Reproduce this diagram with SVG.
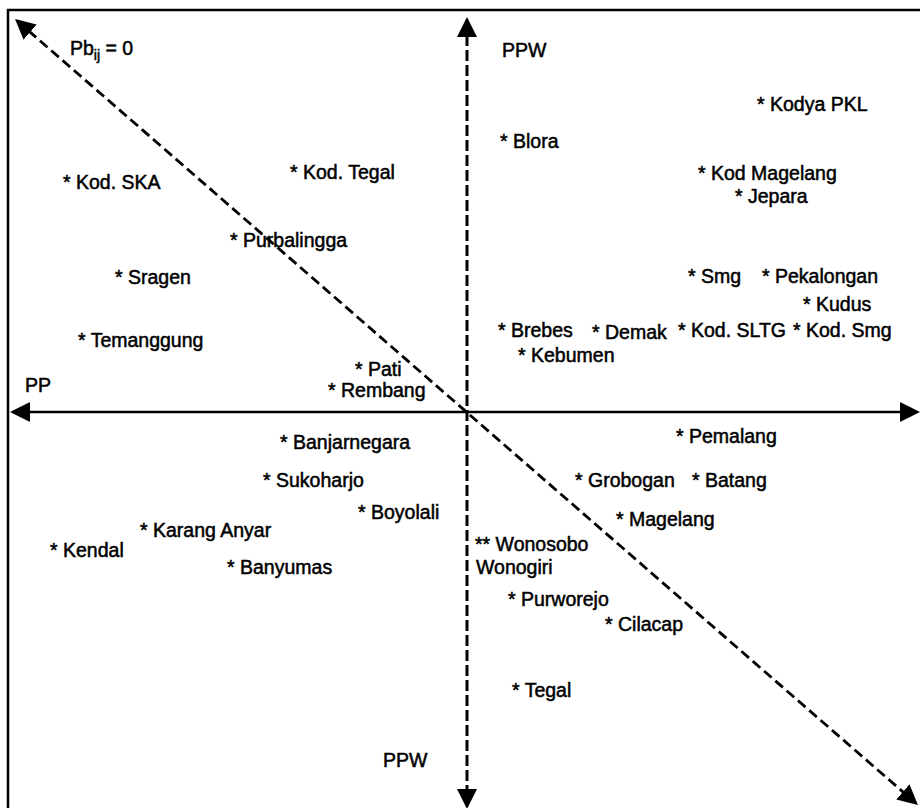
<svg xmlns="http://www.w3.org/2000/svg" width="920" height="808" viewBox="0 0 920 808">
  <style>
    text { font-family: "Liberation Sans", Arial, sans-serif; font-size: 19.5px; fill: #000; stroke: #000; stroke-width: 0.5px; }
    .axis { stroke: #000; stroke-width: 2.6; fill: none; }
    .vdash { stroke: #000; stroke-width: 3; fill: none; stroke-dasharray: 11 4; }
    .ddash { stroke: #000; stroke-width: 2.8; fill: none; stroke-dasharray: 10 5; }
    .frame { stroke: #000; stroke-width: 2.5; fill: none; }
  </style>
  <defs>
    <marker id="arrow" viewBox="0 0 20 20" refX="17" refY="10" markerWidth="20" markerHeight="20" markerUnits="userSpaceOnUse" orient="auto-start-reverse">
      <path d="M0,0 L20,10 L0,20 z" fill="#000"/>
    </marker>
  </defs>
  <rect x="0" y="0" width="920" height="808" fill="#fff"/>
  <rect class="frame" x="8" y="10" width="930" height="820"/>

  <g id="connectors">
    <line class="axis" x1="13" y1="412" x2="917" y2="412" marker-start="url(#arrow)" marker-end="url(#arrow)"/>
    <line class="vdash" x1="467" y1="20" x2="467" y2="806" marker-start="url(#arrow)" marker-end="url(#arrow)"/>
    <line class="ddash" x1="17.3" y1="21" x2="915.7" y2="803" marker-start="url(#arrow)" marker-end="url(#arrow)"/>
  </g>

  <g id="axis-labels">
    <g id="label-pbij"><text x="70" y="55">Pb<tspan font-size="14" dy="5">ij</tspan><tspan dy="-5"> = 0</tspan></text></g>
    <g id="label-ppw-top"><text x="502" y="57">PPW</text></g>
    <g id="label-pp"><text x="25" y="392">PP</text></g>
    <g id="label-ppw-bottom"><text x="383" y="767">PPW</text></g>
  </g>

  <g id="kodya-pkl"><text x="757" y="111">* Kodya PKL</text></g>
  <g id="blora"><text x="500" y="148">* Blora</text></g>
  <g id="kod-tegal"><text x="290" y="179">* Kod. Tegal</text></g>
  <g id="kod-magelang"><text x="698" y="180">* Kod Magelang</text></g>
  <g id="kod-ska"><text x="63" y="189">* Kod. SKA</text></g>
  <g id="jepara"><text x="735" y="203">* Jepara</text></g>
  <g id="purbalingga"><text x="230" y="247">* Purbalingga</text></g>
  <g id="sragen"><text x="115" y="284">* Sragen</text></g>
  <g id="smg"><text x="688" y="283">* Smg</text></g>
  <g id="pekalongan"><text x="762" y="283">* Pekalongan</text></g>
  <g id="kudus"><text x="803" y="311">* Kudus</text></g>
  <g id="temanggung"><text x="78" y="347">* Temanggung</text></g>
  <g id="brebes"><text x="498" y="337">* Brebes</text></g>
  <g id="demak"><text x="592" y="339">* Demak</text></g>
  <g id="kod-sltg"><text x="678" y="337">* Kod. SLTG</text></g>
  <g id="kod-smg"><text x="793" y="337">* Kod. Smg</text></g>
  <g id="kebumen"><text x="518" y="362">* Kebumen</text></g>
  <g id="pati"><text x="355" y="376">* Pati</text></g>
  <g id="rembang"><text x="328" y="397">* Rembang</text></g>
  <g id="banjarnegara"><text x="280" y="449">* Banjarnegara</text></g>
  <g id="pemalang"><text x="676" y="443">* Pemalang</text></g>
  <g id="sukoharjo"><text x="263" y="487">* Sukoharjo</text></g>
  <g id="grobogan"><text x="575" y="487">* Grobogan</text></g>
  <g id="batang"><text x="692" y="487">* Batang</text></g>
  <g id="boyolali"><text x="358" y="519">* Boyolali</text></g>
  <g id="magelang"><text x="616" y="526">* Magelang</text></g>
  <g id="karang-anyar"><text x="140" y="537">* Karang Anyar</text></g>
  <g id="kendal"><text x="50" y="557">* Kendal</text></g>
  <g id="wonosobo"><text x="475" y="551">** Wonosobo</text></g>
  <g id="wonogiri"><text x="476" y="574">Wonogiri</text></g>
  <g id="banyumas"><text x="227" y="574">* Banyumas</text></g>
  <g id="purworejo"><text x="508" y="606">* Purworejo</text></g>
  <g id="cilacap"><text x="605" y="631">* Cilacap</text></g>
  <g id="tegal"><text x="512" y="697">* Tegal</text></g>
</svg>
